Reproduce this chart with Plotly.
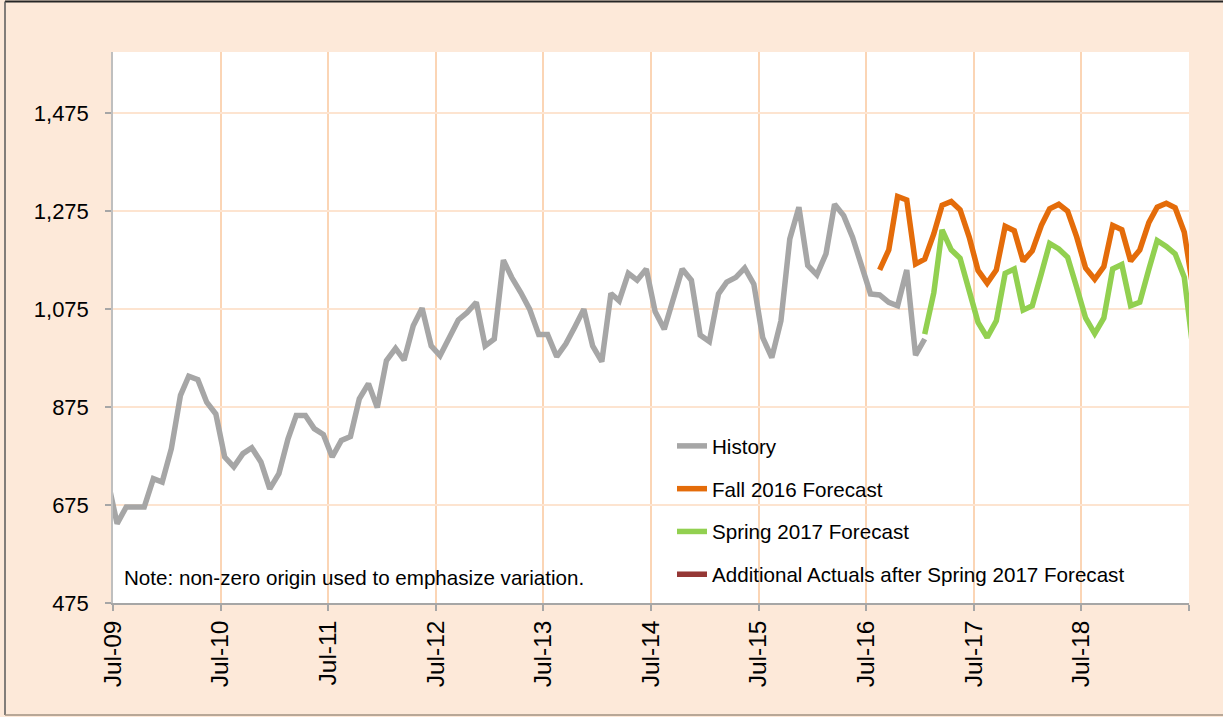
import pandas as pd
import plotly.graph_objects as go

# ---- data (monthly, mid-month) ----
history_start = "2009-06"
history = [720, 637, 671, 671, 671, 729, 722, 790, 899, 938, 931, 885, 861,
           773, 753, 780, 792, 763, 708, 739, 810, 858, 858, 831, 819,
           773, 807, 815, 892, 923, 874, 970, 995, 971, 1041, 1077, 1000,
           980, 1017, 1053, 1068, 1089, 1000, 1014, 1175, 1140, 1109, 1075, 1023,
           1023, 978, 1004, 1038, 1075, 1000, 968, 1107, 1092, 1148, 1134, 1157,
           1070, 1034, 1097, 1157, 1134, 1022, 1009, 1106, 1130, 1140, 1159, 1126,
           1017, 976, 1051, 1218, 1283, 1164, 1145, 1188, 1289, 1266, 1222, 1167,
           1106, 1104, 1089, 1082, 1155, 981, 1014]

fall_start = "2016-08"
fall2016 = [1155, 1196, 1305, 1298, 1167, 1177, 1229, 1287, 1295, 1278, 1222, 1154,
            1128, 1155, 1244, 1235, 1173, 1194, 1246, 1280, 1289, 1275, 1222, 1159,
            1136, 1162, 1246, 1237, 1173, 1196, 1252, 1283, 1291, 1282, 1232, 1115]

spring_start = "2017-01"
spring2017 = [1024, 1109, 1237, 1196, 1179, 1113, 1048, 1017, 1051, 1148, 1157, 1073,
              1082, 1148, 1209, 1198, 1181, 1119, 1057, 1025, 1057, 1157, 1166, 1082,
              1089, 1157, 1215, 1203, 1188, 1140, 990]

additional_actuals = [None]

tick_dates = ["2009-07-01", "2010-07-01", "2011-07-01", "2012-07-01", "2013-07-01",
              "2014-07-01", "2015-07-01", "2016-07-01", "2017-07-01", "2018-07-01",
              "2019-07-01"]
tick_labels = ["Jul-09", "Jul-10", "Jul-11", "Jul-12", "Jul-13", "Jul-14",
               "Jul-15", "Jul-16", "Jul-17", "Jul-18", ""]
y_ticks = [475, 675, 875, 1075, 1275, 1475]


def months(start, n):
    return pd.date_range(start + "-01", periods=n, freq="MS") + pd.Timedelta(days=14)


FONT = "Liberation Sans, Arial, sans-serif"
W, H = 1223, 717
L, R, T, B = 113, 1223 - 1189, 52, 717 - 603
PW, PH = W - L - R, H - T - B


def px(xp):
    return (xp - L) / PW


def py(yp):
    return (H - B - yp) / PH


fig = go.Figure()
series = [
    ("History", history_start, history, "#A6A6A6"),
    ("Fall 2016 Forecast", fall_start, fall2016, "#E46C0A"),
    ("Spring 2017 Forecast", spring_start, spring2017, "#92D050"),
    ("Additional Actuals after Spring 2017 Forecast", "2017-02", additional_actuals, "#953735"),
]
for name, start, vals, col in series:
    fig.add_trace(go.Scatter(
        x=months(start, len(vals)), y=vals, mode="lines", name=name,
        legendgroup=name,
        line=dict(color=col, width=5.5, shape="linear"),
        cliponaxis=True,
    ))

shapes = [
    # white backing for the legend box
    dict(type="rect", xref="paper", yref="paper", x0=px(610), x1=px(1165),
         y0=py(597), y1=py(425), fillcolor="white", line=dict(width=0), layer="below"),
    # outer chart frame
    dict(type="line", xref="paper", yref="paper", x0=px(5), x1=px(1230),
         y0=py(1.5), y1=py(1.5), line=dict(color="#262626", width=2)),
    dict(type="line", xref="paper", yref="paper", x0=px(5), x1=px(5),
         y0=py(1.5), y1=py(715), line=dict(color="#595959", width=1.5)),
    dict(type="line", xref="paper", yref="paper", x0=px(5), x1=px(1230),
         y0=py(715), y1=py(715), line=dict(color="#A09080", width=1.5)),
]

fig.update_layout(
    width=W, height=H,
    margin=dict(l=L, r=R, t=T, b=B, pad=0),
    paper_bgcolor="#FDE9D9",
    plot_bgcolor="white",
    font=dict(family=FONT, color="black"),
    showlegend=True,
    legend=dict(
        x=px(672), y=py(426), xanchor="left", yanchor="top",
        bgcolor="rgba(0,0,0,0)", borderwidth=0,
        font=dict(size=20.6, family=FONT, color="black"),
        traceorder="grouped", tracegroupgap=13,
    ),
    shapes=shapes,
    annotations=[dict(
        text="Note: non-zero origin used to emphasize variation.",
        xref="paper", yref="paper", x=px(122), y=py(577),
        xanchor="left", yanchor="middle", showarrow=False,
        font=dict(size=20.6, family=FONT, color="black"),
    )],
)

fig.update_xaxes(
    type="date",
    range=["2009-07-01", "2019-07-01"],
    tickvals=tick_dates, ticktext=tick_labels,
    tickangle=-90,
    tickfont=dict(size=24.5, family=FONT, color="black"),
    showgrid=True, gridcolor="#FBD5B5", gridwidth=2,
    showline=True, linecolor="#A6A6A6", linewidth=1.5,
    ticks="outside", ticklen=6, tickcolor="#A6A6A6", tickwidth=1.5,
    zeroline=False,
)
fig.update_yaxes(
    range=[475, 1600],
    tickvals=y_ticks, tickformat=",",
    tickfont=dict(size=22, family=FONT, color="black"),
    showgrid=True, gridcolor="#FDE4D0", gridwidth=1.5,
    showline=True, linecolor="#BFBFBF", linewidth=1.5,
    ticks="outside", ticklen=6, tickcolor="#A6A6A6", tickwidth=1.5,
    ticklabelstandoff=12,
    zeroline=False,
)

fig.write_html("out.html", config={"displayModeBar": False},
               post_script="document.body.style.margin='0';document.body.style.overflow='hidden';")
